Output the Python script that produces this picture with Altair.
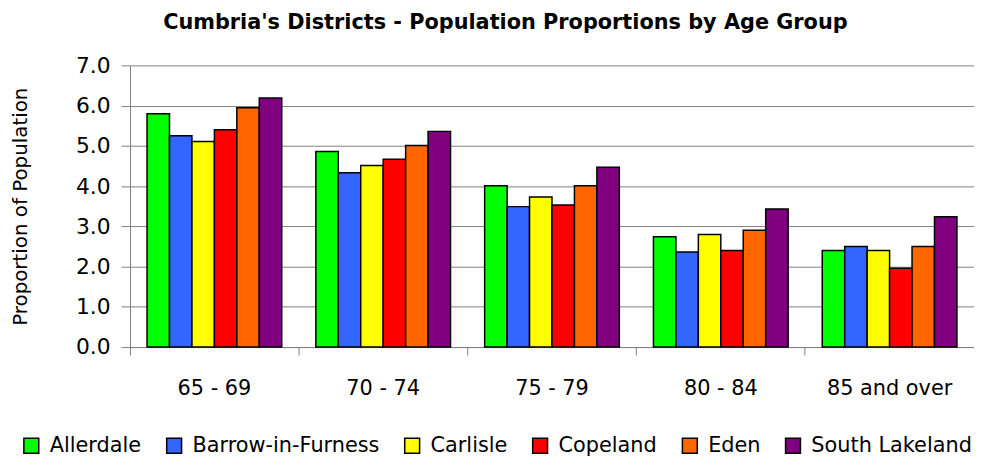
import altair as alt
import pandas as pd

age_groups = ["65 - 69", "70 - 74", "75 - 79", "80 - 84", "85 and over"]
districts = ["Allerdale", "Barrow-in-Furness", "Carlisle", "Copeland", "Eden", "South Lakeland"]
colors = ["#00FF00", "#3366FF", "#FFFF00", "#FF0000", "#FF6600", "#800080"]

allerdale = [5.80, 4.86, 4.01, 2.74, 2.40]
barrow = [5.25, 4.33, 3.49, 2.36, 2.50]
carlisle = [5.11, 4.51, 3.73, 2.80, 2.40]
copeland = [5.40, 4.67, 3.53, 2.40, 1.96]
eden = [5.95, 5.01, 4.01, 2.90, 2.50]
south_lakeland = [6.19, 5.36, 4.47, 3.43, 3.24]

series = [allerdale, barrow, carlisle, copeland, eden, south_lakeland]
rows = []
for d, vals in zip(districts, series):
    for a, v in zip(age_groups, vals):
        rows.append({"Age": a, "District": d, "Value": v})
df = pd.DataFrame(rows)

FONT = "DejaVu Sans"

chart = alt.Chart(df).mark_bar(stroke="black", strokeWidth=1.5).encode(
    x=alt.X("Age:N", sort=age_groups, title=None,
            scale=alt.Scale(paddingInner=0, paddingOuter=0),
            axis=alt.Axis(bandPosition=0, labelAngle=0,
                          labelFontSize=21, labelColor="black", labelPadding=23,
                          tickSize=8, tickColor="#808080", domainColor="#808080",
                          grid=False)),
    xOffset=alt.XOffset("District:N", sort=districts,
                        scale=alt.Scale(paddingInner=0, paddingOuter=0.76)),
    y=alt.Y("Value:Q", title="Proportion of Population",
            scale=alt.Scale(domain=[0, 7], nice=False),
            axis=alt.Axis(values=[0, 1, 2, 3, 4, 5, 6, 7], format=".1f",
                          labelFontSize=22, labelColor="black", labelPadding=11,
                          tickSize=9, tickColor="#808080", domainColor="#808080",
                          gridColor="#808080", gridWidth=1,
                          titleFontSize=20, titleFontWeight="normal",
                          titleColor="black", titlePadding=45)),
    color=alt.Color("District:N", sort=districts,
                    scale=alt.Scale(domain=districts, range=colors),
                    legend=alt.Legend(title=None, orient="none", direction="horizontal",
                                      legendX=-110, legendY=373,
                                      symbolType="square", symbolSize=225,
                                      symbolStrokeColor="black", symbolStrokeWidth=1.5,
                                      labelFontSize=21, labelColor="black", labelLimit=0,
                                      columnPadding=22, labelOffset=8)),
).properties(
    width=851,
    height=284,
    title=alt.TitleParams("Cumbria's Districts - Population Proportions by Age Group",
                          fontSize=21, fontWeight="bold", color="black",
                          anchor="middle", frame="group", dx=-47, offset=22),
    autosize=alt.AutoSizeParams(type="none"),
    padding={"left": 123, "top": 56, "right": 0, "bottom": 110},
).configure(font=FONT).configure_view(stroke=None)

chart.save("out.html", embed_options={"renderer": "svg", "actions": False})
